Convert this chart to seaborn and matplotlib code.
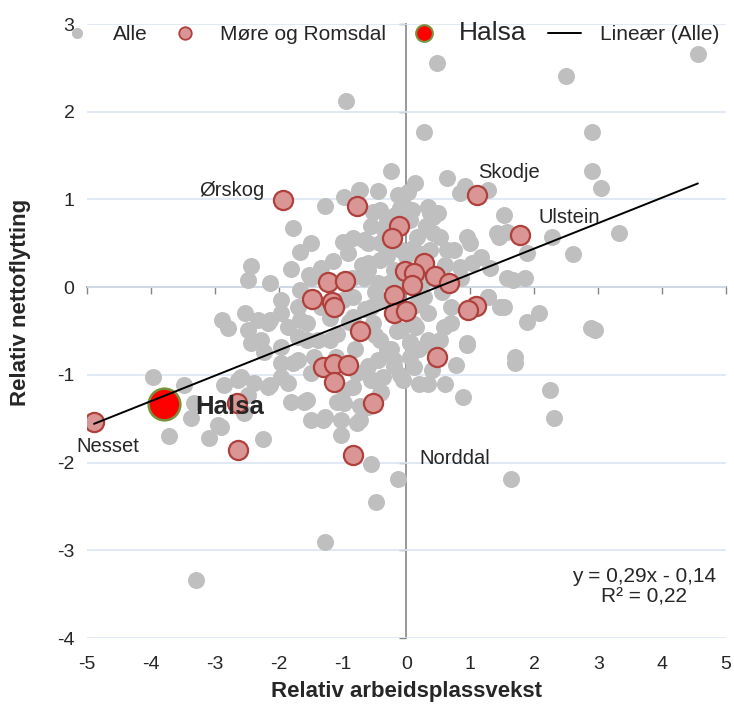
import numpy as np
import pandas as pd
import matplotlib.pyplot as plt
import seaborn as sns
from matplotlib.lines import Line2D

# ── Style ─────────────────────────────────────────────────
sns.set_style("white")
plt.rcParams["font.family"] = ["Liberation Sans", "DejaVu Sans"]

GREY = "#BFBFBF"
MR_FILL = "#D99694"
MR_EDGE = "#B0403B"
AXIS_C = "#868686"
GRID_C = "#DCE6F2"

# ── Data ──────────────────────────────────────────────────
# Alle kommuner: relativ arbeidsplassvekst (x) og relativ nettoflytting (y)
alle_x = [
    0.47, 2.50, 4.56, -0.95,
    0.27, 2.91, 0.64, 2.91, 3.05, 0.92, 1.28, 1.52, 0.14, 3.33, 2.28, 2.61,
    1.44, 1.89, 1.00, 1.67, 1.86, 1.31, 0.37, 0.42, 0.74, 1.03, 1.28,
    -0.25, -1.27, -0.98, -0.75, -0.44, -0.52, -1.78, -1.50, -1.66, -1.81,
    -2.44, -2.48, -2.13, -1.34, -1.00, -0.67, -0.92, -0.61, -1.50,
    0.84, -0.14, 0.03, 0.33, 0.41, -0.41, 1.42, 1.58, 0.95, 0.06, -0.72,
    -1.53, -0.83, -1.97, -1.70, -2.52, -2.88, -2.33, -2.48, -2.13, -1.86,
    -1.55, -1.70, -2.28, -1.39, -1.08, -0.83, -0.83, -0.67, -1.66, -1.34,
    -3.97, -3.48, -3.33, -3.38, -3.72, -2.95, -3.09, -2.25, -2.80, -2.44,
    -2.23, -1.97, -1.77, -1.97, -2.17, -2.39, -2.64, -2.86, -2.55, -2.48,
    -1.81, -1.55, -1.50, -1.27, -1.03, -0.72, -1.03, -0.98, -0.98, -0.56,
    -0.77, -0.41, -1.45, -1.55, -1.66, -1.97, -2.17,
    -1.61, -1.30, -0.77, -0.72, -2.91, -1.08, -0.83, -1.86, -2.13, -2.59,
    -1.50, -1.70, -1.97,
    -0.56, -0.14, -0.48, -1.28, -3.30, 1.63,
    1.52, 1.89, 2.08, 2.88, 2.95, 0.94, 1.70, 1.70, 0.77, 0.33, 0.89, 2.25,
    2.31, -0.05, -0.36, -0.52, -0.61, 0.11, -0.20, -0.45, 0.42, 0.53,
    -0.61, 0.17, 0.53, 1.16, 0.84, 1.58, 1.47, 1.27, 0.69, 0.58, 0.95, 0.33,
    0.06, -0.41, -0.56, -0.45, -0.41, -0.61, 0.64, 0.37, -0.09, -0.41, 0.27,
    0.33, -0.52, -0.09, 0.69,
    -0.30, -0.15, 0.15, 0.20, -0.30, 0.05, -0.10, 0.20, -0.60, -0.80, -0.50,
    -0.90, -1.20, -1.00, -0.50, -0.70, -0.30, -0.10, -0.30, -0.55, 0.10,
    0.25, 0.55, 0.85, 0.60, 0.30, 0.50, -0.20, -0.85, -1.15, -1.20, -1.10,
    -0.40, -0.20, 0.40, 0.60, -0.20, 0.00, 0.15, -0.35, 0.45, -0.65, -0.25,
    -0.05, 0.08, -0.18, -0.32, 0.22, -0.12, 0.12, -0.40, 0.05, -0.28,
]
alle_y = [
    2.55, 2.41, 2.66, 2.12,
    1.77, 1.77, 1.24, 1.32, 1.13, 1.15, 1.11, 0.82, 1.19, 0.62, 0.57, 0.38,
    0.57, 0.39, 0.50, 0.08, 0.10, 0.22, 0.84, 0.62, 0.42, 0.27, -0.11,
    1.32, 0.92, 1.03, 1.11, 1.10, 0.86, 0.67, 0.50, 0.40, 0.21,
    0.24, 0.08, 0.05, 0.22, 0.51, 0.54, 0.39, 0.27, 0.11,
    1.07, 1.05, 1.08, 0.91, 0.80, 0.88, 0.62, 0.63, 0.57, 0.76, 1.11,
    0.14, 0.56, -0.15, -0.23, -0.29, -0.38, -0.38, -0.49, -0.38, -0.46,
    -0.41, -0.57, -0.60, -0.60, -0.53, -0.34, -0.11, 0.11, -0.03, -0.23,
    -1.03, -1.12, -1.32, -1.49, -1.70, -1.57, -1.72, -1.73, -0.47, -0.64,
    -0.74, -0.68, -0.87, -1.03, -1.14, -1.09, -1.06, -1.12, -1.43, -1.23,
    -1.31, -1.29, -1.52, -1.48, -1.52, -1.52, -1.69, -1.32, -1.17, -1.06,
    -0.98, -1.21, -0.80, -0.60, -0.38, -0.30, -0.41,
    -1.31, -1.52, -1.55, -1.35, -1.60, -1.31, -1.14, -1.09, -1.12, -1.03,
    -0.98, -0.83, -0.87,
    -2.02, -2.19, -2.45, -2.90, -3.34, -2.19,
    -0.23, -0.40, -0.30, -0.47, -0.49, -0.66, -0.80, -0.87, -0.89, -1.10,
    -1.25, -1.17, -1.49, -1.06, -1.03, -1.06, -1.37, -0.91, -0.83, -0.83,
    -0.68, -0.60,
    0.50, 0.57, 0.57, 0.34, 0.23, 0.11, -0.23, -0.11, -0.23, -0.46, -0.64,
    -0.60, -0.64, -0.60, -0.23, 0.05, 0.31, 0.19, 0.42, 0.42, 0.42, 0.50,
    -0.11, -0.30, -0.41, -0.49, -0.41,
    -0.15, -0.50, -0.45, -0.70, -0.70, -0.80, -1.00, -1.10, -0.90, -0.70,
    -0.55, -0.40, -0.35, -0.15, -0.05, 0.25, 0.35, 0.90, 0.75, 0.70, 0.45,
    0.05, -0.05, 0.10, 0.25, 0.70, 0.85, 0.20, 0.10, 0.30, -0.60, -0.80,
    -1.20, -0.90, -0.95, -1.10, 0.00, 0.35, -0.20, 0.65, 0.15, -0.25, -0.70,
    0.95, 0.88, 0.82, 0.45, 0.38, 0.10, -0.42, -0.15, -0.62, 0.05,
]

# Møre og Romsdal
mr_x = [-1.94, -0.77, 1.11, 1.78, -0.11, -0.23, -1.23, -0.97, -1.48, -1.16,
        -1.14, -0.72, -1.30, -1.14, -0.91, -1.14, -0.53, -4.89, -2.63, -0.83,
        -2.66, 0.27, -0.02, 0.11, 0.44, 0.09, 0.66, -0.20, -0.20, 0.00, 1.08,
        0.97, 0.47]
mr_y = [0.99, 0.92, 1.05, 0.60, 0.70, 0.56, 0.06, 0.07, -0.13, -0.17,
        -0.23, -0.50, -0.91, -0.88, -0.89, -1.08, -1.32, -1.54, -1.86, -1.91,
        -1.32, 0.27, 0.18, 0.16, 0.13, 0.03, 0.05, -0.09, -0.30, -0.27, -0.22,
        -0.26, -0.80]

# Halsa
halsa_x = [-3.80]
halsa_y = [-1.33]

# Lineær trend (Alle), as printed on the chart
slope, intercept, r2 = 0.29, -0.14, 0.22

# Named municipalities
name_labels = ["Ørskog", "Skodje", "Ulstein", "Nesset", "Norddal"]
name_x = [-2.22, 1.12, 2.06, -5.16, 0.20]
name_y = [1.10, 1.31, 0.79, -1.82, -1.95]
name_ha = ["right", "left", "left", "left", "left"]

x_ticks = list(range(-5, 6))
y_ticks = list(range(-4, 4))

df_alle = pd.DataFrame({"x": alle_x + mr_x + halsa_x,
                        "y": alle_y + mr_y + halsa_y})
df_mr = pd.DataFrame({"x": mr_x, "y": mr_y})
df_halsa = pd.DataFrame({"x": halsa_x, "y": halsa_y})

# ── Figure ────────────────────────────────────────────────
fig = plt.figure(figsize=(7.34, 7.06), dpi=100)
ax = fig.add_axes([0.1185, 0.0963, 0.8706, 0.8697])

sns.scatterplot(data=df_alle, x="x", y="y", ax=ax, color=GREY, s=150,
                linewidth=0, zorder=2, legend=False)
sns.scatterplot(data=df_mr, x="x", y="y", ax=ax, color=MR_FILL, s=190,
                edgecolor=MR_EDGE, linewidth=1.6, zorder=3, legend=False)
sns.scatterplot(data=df_halsa, x="x", y="y", ax=ax, color="#FF0000", s=520,
                edgecolor="#77933C", linewidth=1.8, zorder=4, legend=False)

# trend line over the span of all municipalities
lx = np.array([df_alle["x"].min(), df_alle["x"].max()])
ax.plot(lx, slope * lx + intercept, color="black", linewidth=1.4, zorder=5)

ax.set_xlim(-5, 5)
ax.set_ylim(-4, 3)
ax.set_xticks(x_ticks)
ax.set_yticks(y_ticks)
ax.set_xticklabels([str(t) for t in x_ticks])
ax.set_yticklabels([str(t) for t in y_ticks])
ax.tick_params(axis="x", length=0, pad=13, labelsize=14)
ax.tick_params(axis="y", length=0, pad=9, labelsize=14)
for sp in ax.spines.values():
    sp.set_visible(False)
ax.yaxis.grid(True, color=GRID_C, linewidth=1.2)
ax.xaxis.grid(False)
ax.set_axisbelow(True)

# axis lines crossing at origin
secx = ax.secondary_xaxis(4 / 7)
secx.set_alignment("bottom")
secx.set_xticks(x_ticks)
secx.tick_params(labelbottom=False, labeltop=False, length=5, width=1,
                 color=AXIS_C, direction="out")
for sp in secx.spines.values():
    sp.set_color(AXIS_C)
    sp.set_linewidth(1.2)

secy = ax.secondary_yaxis(0.5)
secy.set_alignment("left")
secy.set_yticks(y_ticks)
secy.tick_params(labelleft=False, labelright=False, length=5, width=1,
                 color=AXIS_C, direction="out")
for sp in secy.spines.values():
    sp.set_color(AXIS_C)
    sp.set_linewidth(1.2)

ax.set_xlabel("Relativ arbeidsplassvekst", fontsize=16, fontweight="bold",
              labelpad=6)
ax.set_ylabel("Relativ nettoflytting", fontsize=16, fontweight="bold")
ax.yaxis.set_label_coords(-0.088, 0.547)

# labels
for lab, x, y, ha in zip(name_labels, name_x, name_y, name_ha):
    ax.text(x, y, lab, ha=ha, va="center", fontsize=14.5, zorder=6)
ax.text(-3.30, -1.37, "Halsa", ha="left", va="center", fontsize=18.5,
        fontweight="bold", zorder=6)

ax.text(3.72, -3.41, f"y = {slope:.2f}x - {abs(intercept):.2f}\nR² = {r2:.2f}"
        .replace(".", ","), ha="center", va="center", fontsize=15,
        linespacing=1.1, zorder=6)

# legend
handles = [
    Line2D([], [], marker="o", linestyle="none", markersize=8,
           markerfacecolor=GREY, markeredgewidth=0),
    Line2D([], [], marker="o", linestyle="none", markersize=9,
           markerfacecolor=MR_FILL, markeredgecolor=MR_EDGE,
           markeredgewidth=1.3),
    Line2D([], [], marker="o", linestyle="none", markersize=12,
           markerfacecolor="#FF0000", markeredgecolor="#77933C",
           markeredgewidth=1.5),
    Line2D([], [], color="black", linewidth=1.4),
]
leg = ax.legend(handles, ["Alle", "Møre og Romsdal", "Halsa", "Lineær (Alle)"],
                ncol=4, frameon=False, loc="center",
                bbox_to_anchor=(0.474, 0.985), fontsize=15,
                handlelength=1.6, handletextpad=0.9, columnspacing=1.0,
                borderpad=0, borderaxespad=0)
leg.get_texts()[2].set_fontsize(19)
leg.set_zorder(10)

fig.savefig("out.png", dpi=100)
